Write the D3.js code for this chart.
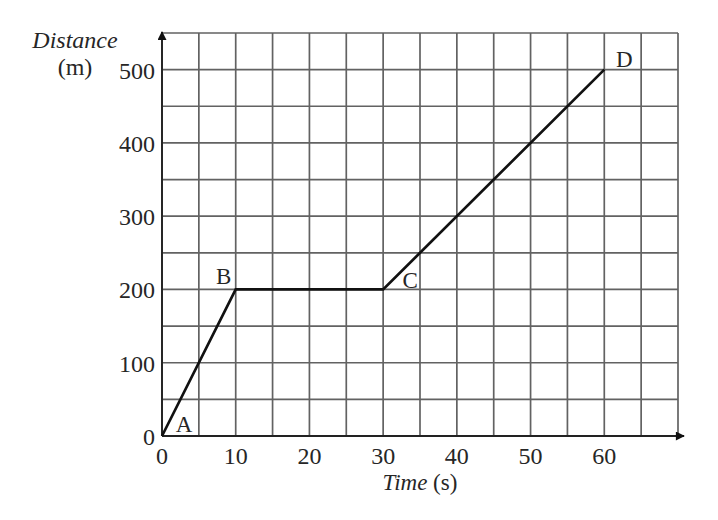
<!DOCTYPE html>
<html><head><meta charset="utf-8">
<script src="https://cdn.jsdelivr.net/npm/d3@7/dist/d3.min.js"></script>
<style>html,body{margin:0;padding:0;background:#fff;}svg{display:block;}</style>
</head><body>
<svg id="chart" width="718" height="520"></svg>
<script>
// Data
const pointNames = ["A", "B", "C", "D"];
const timeValues = [0, 10, 30, 60];
const distanceValues = [0, 200, 200, 500];
const xTickValues = [0, 10, 20, 30, 40, 50, 60];
const yTickValues = [0, 100, 200, 300, 400, 500];
const xGridValues = d3.range(0, 71, 5);
const yGridValues = d3.range(0, 551, 50);
const xLabel = "Time";
const xUnit = "(s)";
const yLabel = "Distance";
const yUnit = "(m)";

const svg = d3.select("#chart");
const x = d3.scaleLinear().domain([0, 70]).range([162, 678]);
const y = d3.scaleLinear().domain([0, 550]).range([436, 33]);
const font = "'Liberation Serif', 'Times New Roman', serif";
const textColor = "#262626";

// grid
svg.append("g").selectAll("line").data(xGridValues).join("line")
  .attr("x1", d => x(d)).attr("x2", d => x(d))
  .attr("y1", y(0)).attr("y2", y(550))
  .attr("stroke", "#626262").attr("stroke-width", 1.7);
svg.append("g").selectAll("line").data(yGridValues).join("line")
  .attr("x1", x(0)).attr("x2", x(70))
  .attr("y1", d => y(d)).attr("y2", d => y(d))
  .attr("stroke", "#626262").attr("stroke-width", 1.7);

// axes with arrows
const defs = svg.append("defs");
defs.append("marker").attr("id", "arr").attr("viewBox", "0 0 10 10")
  .attr("refX", 9).attr("refY", 5).attr("markerWidth", 11).attr("markerHeight", 9)
  .attr("markerUnits", "userSpaceOnUse").attr("orient", "auto")
  .append("path").attr("d", "M0,0 L10,5 L0,10 Z").attr("fill", "#111");

svg.append("line").attr("x1", x(0)).attr("x2", x(70) + 6)
  .attr("y1", y(0)).attr("y2", y(0))
  .attr("stroke", "#222").attr("stroke-width", 1.9).attr("marker-end", "url(#arr)");
svg.append("line").attr("x1", x(0)).attr("x2", x(0))
  .attr("y1", y(0)).attr("y2", y(550) - 1)
  .attr("stroke", "#222").attr("stroke-width", 1.9).attr("marker-end", "url(#arr)");

// tick labels
svg.append("g").selectAll("text").data(xTickValues).join("text")
  .attr("x", d => x(d)).attr("y", 464)
  .attr("text-anchor", "middle")
  .attr("font-family", font).attr("font-size", 24).attr("fill", textColor)
  .text(d => d);
svg.append("g").selectAll("text").data(yTickValues).join("text")
  .attr("x", 155).attr("y", d => y(d) + 9)
  .attr("text-anchor", "end")
  .attr("font-family", font).attr("font-size", 24).attr("fill", textColor)
  .text(d => d);

// axis titles
const xt = svg.append("text").attr("x", 420).attr("y", 490)
  .attr("text-anchor", "middle").attr("font-family", font).attr("font-size", 23).attr("fill", textColor);
xt.append("tspan").attr("font-style", "italic").text(xLabel);
xt.append("tspan").text(" " + xUnit);
svg.append("text").attr("x", 75).attr("y", 48).attr("text-anchor", "middle")
  .attr("font-family", font).attr("font-size", 24).attr("font-style", "italic").attr("fill", textColor)
  .text(yLabel);
svg.append("text").attr("x", 75).attr("y", 75).attr("text-anchor", "middle")
  .attr("font-family", font).attr("font-size", 24).attr("fill", textColor)
  .text(yUnit);

// data line
const pts = timeValues.map((t, i) => ({t, d: distanceValues[i], name: pointNames[i]}));
svg.append("path").datum(pts)
  .attr("d", d3.line().x(p => x(p.t)).y(p => y(p.d)))
  .attr("fill", "none").attr("stroke", "#111").attr("stroke-width", 2.7)
  .attr("stroke-linejoin", "miter");

// point labels
const labelOffsets = {A: [22, -4], B: [-12, -5], C: [27, -1], D: [20, -3]};
svg.append("g").selectAll("text").data(pts).join("text")
  .attr("x", p => x(p.t) + labelOffsets[p.name][0])
  .attr("y", p => y(p.d) + labelOffsets[p.name][1])
  .attr("text-anchor", "middle")
  .attr("font-family", font).attr("font-size", 23).attr("fill", textColor)
  .text(p => p.name);
</script>
</body></html>
